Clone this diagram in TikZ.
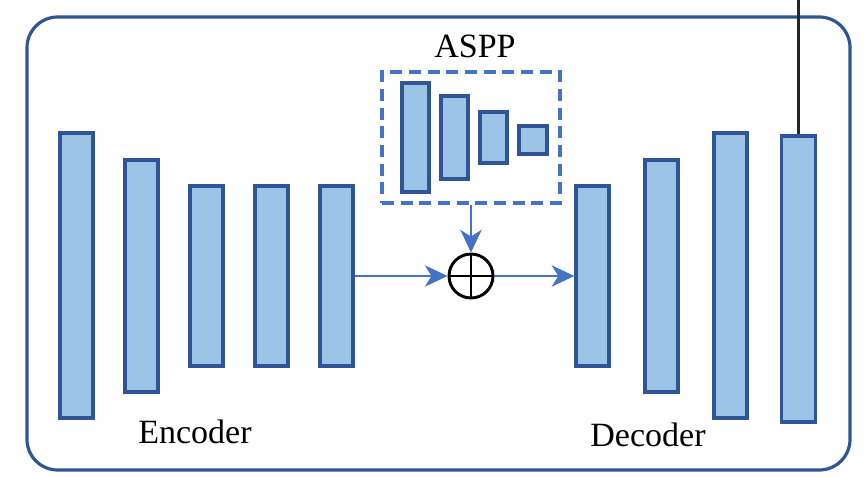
\documentclass[tikz,border=0pt]{standalone}
\usepackage{fontspec}
\setmainfont{Liberation Serif}
\usetikzlibrary{arrows.meta}
\definecolor{barfill}{HTML}{9DC3E6}
\definecolor{bardraw}{HTML}{2F5597}
\definecolor{arrowblue}{HTML}{4472C4}
\begin{document}
\begin{tikzpicture}[x=0.75pt,y=-0.75pt,
  bar/.style args={#1/#2}{draw=bardraw, fill=barfill, line width=2.5pt, inner sep=0pt,
     minimum width=#1*0.75pt, minimum height=#2*0.75pt},
  flow/.style={draw=arrowblue, line width=1.6pt, -{Stealth[length=17pt,width=16pt,inset=5pt]}},
  lbl/.style={font=\fontsize{25.5}{30}\selectfont, anchor=base, inner sep=0pt}]
\useasboundingbox (0,0) rectangle (867,477);
% outer frame
\draw[draw=bardraw, line width=2.4pt, rounded corners=23pt] (27,17) rectangle (850,470);
% encoder
\node[bar=33/285] (e1) at (76.5,275.5) {};
\node[bar=33/232] (e2) at (141.5,276) {};
\node[bar=33/180] (e3) at (206.5,276) {};
\node[bar=33/180] (e4) at (271.5,276) {};
\node[bar=33/180] (e5) at (336.5,276) {};
% decoder
\node[bar=33/180] (d1) at (592.5,276) {};
\node[bar=33/232] (d2) at (661.5,276) {};
\node[bar=33/285] (d3) at (730.5,275.5) {};
\node[bar=34/286] (d4) at (798.5,279) {};
% ASPP
\node[draw=arrowblue, line width=2.4pt, dash pattern=on 9pt off 5pt, inner sep=0pt,
      minimum width=178*0.75pt, minimum height=131*0.75pt] (aspp) at (471,137.5) {};
\node[bar=27/109] (a1) at (415.5,137.5) {};
\node[bar=27/83] (a2) at (454.5,137.5) {};
\node[bar=27/51] (a3) at (493.5,137.5) {};
\node[bar=28/28] (a4) at (533,140) {};
\node[lbl] (asppl) at (475,58) {ASPP};
% oplus
\node[draw=black, circle, line width=2.2pt, minimum size=44*0.75pt, inner sep=0pt] (plus) at (471,276) {};
\draw[line width=2.2pt] (plus.north) -- (plus.south) (plus.west) -- (plus.east);
% arrows
\draw[flow] (e5.east) -- (plus.west);
\draw[flow] (plus.east) -- (d1.west);
\draw[flow] (aspp.south) -- (plus.north);
% output line
\coordinate (top) at (798.5,0);
\draw[line width=1.6pt, draw=black!85] (top) -- (d4.north);
% labels
\node[lbl] (enc) at (195,443) {Encoder};
\node[lbl] (dec) at (648,446) {Decoder};
\end{tikzpicture}
\end{document}
